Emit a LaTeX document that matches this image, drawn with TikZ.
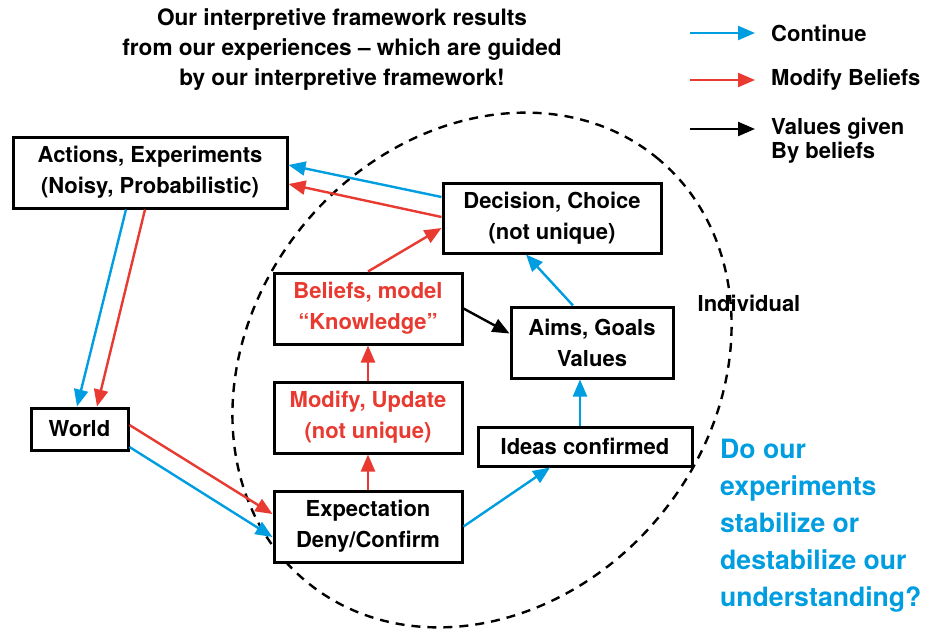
\documentclass[tikz,border=0pt]{standalone}
\usepackage{fontspec}
\setmainfont{TeX Gyre Heros}
\usetikzlibrary{arrows.meta}
\definecolor{contblue}{RGB}{0,158,224}
\definecolor{modred}{RGB}{232,58,48}
\begin{document}
\begin{tikzpicture}[x=1pt,y=-1pt,
	every node/.style={align=center,font=\bfseries\fontsize{22}{31}\selectfont},
	box/.style={draw,fill=white,line width=3pt,inner sep=0pt},
	legend/.style={anchor=west,inner sep=0pt,align=left},
	cont/.style={draw=contblue,line width=2.4pt,-{Triangle[length=17pt,width=14pt]}},
	modif/.style={draw=modred,line width=2.4pt,-{Triangle[length=17pt,width=14pt]}},
	vals/.style={draw=black,line width=2.4pt,-{Triangle[length=17pt,width=14pt]}},
	individual/.style={draw,line width=2.4pt,dash pattern=on 9pt off 7pt}]
	\useasboundingbox (0,0) rectangle (934,629);
	\draw[individual,rotate around={50:(482,370)}] (482,370) ellipse [x radius=275pt,y radius=230pt];
	\node[font=\bfseries\fontsize{22.6}{30}\selectfont] (title) at (342,50) {Our interpretive framework results\\from our experiences -- which are guided\\by our interpretive framework!};
	\node[box,minimum width=274pt,minimum height=71pt] (act) at (150,172.5) {Actions, Experiments\\(Noisy, Probabilistic)};
	\node[box,minimum width=218pt,minimum height=70pt] (dec) at (552,218) {Decision, Choice\\(not unique)};
	\node[box,minimum width=188pt,minimum height=71pt,text=modred] (bel) at (368,308.5) {Beliefs, model\\``Knowledge''};
	\node[box,minimum width=162pt,minimum height=71pt] (aims) at (592,342.5) {Aims, Goals\\Values};
	\node[box,minimum width=188pt,minimum height=71pt,text=modred] (mod) at (368,417.5) {Modify, Update\\(not unique)};
	\node[box,minimum width=97pt,minimum height=42pt] (world) at (79.5,429) {World};
	\node[box,minimum width=188pt,minimum height=71pt] (expc) at (368,526.5) {Expectation\\Deny/Confirm};
	\node[box,minimum width=214pt,minimum height=39pt] (ideas) at (585,446.5) {Ideas confirmed};
	\node (indiv) at (749,303) {Individual};
	\node[anchor=west,align=left,inner sep=0pt,text=contblue,font=\bfseries\fontsize{26.6}{37}\selectfont] (quest) at (720,526) {Do our\\experiments\\stabilize or\\destabilize our\\understanding?};
	\node[legend] (lcont) at (771,33) {Continue};
	\node[legend] (lmod) at (771,80) {Modify Beliefs};
	\node[legend,font=\bfseries\fontsize{22}{24}\selectfont] (lval) at (771,141) {Values given\\By beliefs};
	\coordinate (lcont0) at (690,33);
	\coordinate (lmod0) at (690,80);
	\coordinate (lval0) at (690,129);
	\draw[cont] (lcont0) -- ([xshift=-16pt]lcont.west);
	\draw[modif] (lmod0) -- ([xshift=-16pt]lmod.west);
	\draw[vals] (lval0) -- (755,129);
	\draw[cont] ([yshift=21pt]dec.west) -- ([yshift=7.5pt]act.east);
	\draw[modif] ([yshift=1pt]dec.west) -- ([yshift=-11.5pt]act.east);
	\draw[cont] ([xshift=-24pt]act.south) -- ([xshift=-2.5pt]world.north);
	\draw[modif] ([xshift=-5pt]act.south) -- ([xshift=17.5pt]world.north);
	\draw[modif] ([yshift=4pt]world.east) -- ([yshift=12.5pt]expc.west);
	\draw[cont] ([yshift=-18pt]world.east) -- ([yshift=-10.5pt]expc.west);
	\draw[modif] (expc.north) -- (mod.south);
	\draw[modif] (mod.north) -- (bel.south);
	\draw[modif] (bel.north) -- ([yshift=-10pt]dec.west);
	\draw[vals] (bel.east) -- ([yshift=9pt]aims.west);
	\draw[cont] ([xshift=-19pt]aims.north) -- ([xshift=-26pt]dec.south);
	\draw[cont] ([xshift=-5pt]ideas.north) -- ([xshift=-12pt]aims.south);
	\draw[cont] (expc.east) -- ([xshift=-35pt]ideas.south);
\end{tikzpicture}
\end{document}
